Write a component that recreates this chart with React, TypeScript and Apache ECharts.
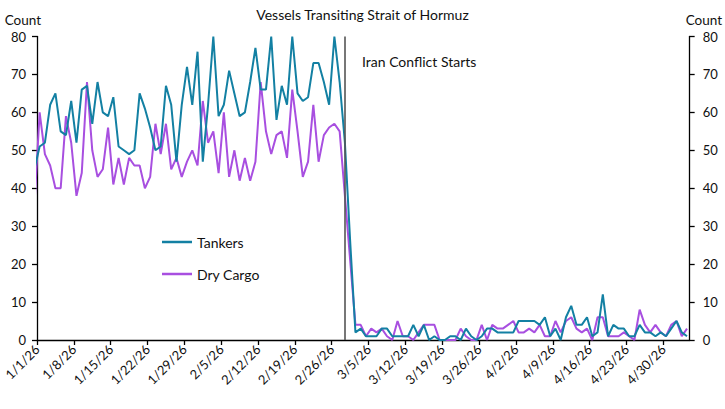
import React, { useEffect, useRef } from 'react'
import * as echarts from 'echarts'

// daily counts, first value is 12/31/25 (clipped at the axis edge)
const tankers = [
  45, 51, 52, 62, 65, 55, 54, 63, 52, 66, 67, 57, 68, 60, 59, 64,
  51, 50, 49, 50, 65, 61, 56, 50, 51, 67, 62, 47, 62, 72, 62,
  76, 47, 62, 80, 59, 62, 71, 65, 59, 60, 68, 77, 66, 66,
  80, 58, 67, 62, 80, 65, 63, 64, 73, 73, 68, 62, 80, 68, 52, 26, 2,
  3, 1, 1, 1, 3, 3, 1, 1, 1, 1, 4, 1, 4, 0, 1, 0, 0, 1, 1, 0, 3, 1, 0, 1, 3, 3, 2, 2, 2, 2,
  5, 5, 5, 5, 4, 6, 1, 3, 0, 6, 9, 4, 4, 6, 1, 2, 12, 1, 4, 3, 3, 1, 1, 4, 2, 2, 1, 2, 1, 3, 5, 2, 1,
]

const dryCargo = [
  35, 60, 49, 46, 40, 40, 59, 52, 38, 44, 68, 50, 43, 45, 56, 41,
  48, 41, 48, 46, 46, 40, 43, 57, 49, 57, 45, 48, 43, 47, 50,
  46, 63, 52, 55, 44, 60, 43, 50, 42, 48, 42, 47, 68, 55,
  49, 54, 55, 48, 66, 55, 43, 47, 62, 47, 54, 56, 57, 55, 38, 21, 4,
  4, 1, 3, 2, 3, 1, 0, 5, 1, 1, 0, 2, 4, 4, 4, 0, 0, 0, 0, 3, 1, 0, 0, 4, 0, 4, 3, 3, 4, 5,
  2, 2, 3, 2, 4, 1, 1, 5, 2, 5, 6, 3, 2, 3, 0, 6, 6, 1, 1, 1, 2, 1, 0, 8, 4, 2, 4, 2, 1, 4, 5, 1, 3,
]

const firstDate = '12/31/25'
const axisStartDate = '1/1/26'
const axisEndDate = '5/5/26'
const conflictDate = '2/28/26'
const conflictLabel = 'Iran Conflict Starts'

const parseDate = (s: string) => {
  const [m, d, y] = s.split('/').map(Number)
  return new Date(2000 + y, m - 1, d)
}
const formatDate = (dt: Date) =>
  `${dt.getMonth() + 1}/${dt.getDate()}/${String(dt.getFullYear()).slice(2)}`

const DAY = 86400000
const dayOffset = (s: string) =>
  Math.round((parseDate(s).getTime() - parseDate(axisStartDate).getTime()) / DAY)

const dates = tankers.map((_, i) => {
  const dt = parseDate(firstDate)
  dt.setDate(dt.getDate() + i)
  return formatDate(dt)
})

// each daily value sits in the middle of its day
const toPoints = (vals: number[]) => dates.map((d, i) => [dayOffset(d) + 0.5, vals[i]])

const FONT = 'Lato'
const TEXT = '#111'
const TEAL = '#1380A3'
const PURPLE = '#A84FE0'

const App: React.FC = () => {
  const chartRef = useRef<HTMLDivElement>(null)

  useEffect(() => {
    if (!chartRef.current) return
    const chart = echarts.init(chartRef.current, undefined, { renderer: 'svg' })

    const yAxisBase = {
      type: 'value' as const,
      min: 0,
      max: 80,
      interval: 10,
      name: 'Count',
      nameLocation: 'end' as const,
      nameGap: 10,
      axisLine: { show: true, lineStyle: { color: '#000', width: 1.3 } },
      axisTick: { show: true, length: 5, lineStyle: { color: '#000', width: 1.3 } },
      splitLine: { show: false },
    }

    chart.setOption({
      animation: false,
      backgroundColor: '#fff',
      textStyle: { fontFamily: FONT },
      title: {
        text: 'Vessels Transiting Strait of Hormuz',
        left: 'center',
        top: 2,
        textStyle: { fontFamily: FONT, fontSize: 14, fontWeight: 'normal', color: TEXT },
      },
      legend: {
        orient: 'vertical',
        left: 157,
        top: 230,
        icon: 'rect',
        itemWidth: 30,
        itemHeight: 2.5,
        itemGap: 18,
        textStyle: { fontFamily: FONT, fontSize: 14, color: TEXT },
        data: ['Tankers', 'Dry Cargo'],
      },
      grid: { left: 37, right: 33, top: 36.5, bottom: 69, containLabel: false },
      xAxis: {
        type: 'value',
        min: 0,
        max: dayOffset(axisEndDate),
        interval: 7,
        splitLine: { show: false },
        axisLine: { lineStyle: { color: '#000', width: 1.3 } },
        axisTick: { length: 5, lineStyle: { color: '#000', width: 1.3 } },
        axisLabel: {
          rotate: 45,
          margin: 7,
          fontFamily: FONT,
          fontSize: 13,
          color: TEXT,
          showMaxLabel: false,
          formatter: (v: number) => {
            const dt = parseDate(axisStartDate)
            dt.setDate(dt.getDate() + v)
            return formatDate(dt)
          },
        },
      },
      yAxis: [
        {
          ...yAxisBase,
          position: 'left',
          nameTextStyle: { fontFamily: FONT, fontSize: 13.5, color: TEXT, align: 'right', padding: [0, -4, 0, 0] },
          axisLabel: { fontFamily: FONT, fontSize: 13, color: TEXT, margin: 11 },
        },
        {
          ...yAxisBase,
          position: 'right',
          nameTextStyle: { fontFamily: FONT, fontSize: 13.5, color: TEXT, align: 'left', padding: [0, 0, 0, -4] },
          axisLabel: { fontFamily: FONT, fontSize: 13, color: TEXT, margin: 13 },
        },
      ],
      series: [
        {
          name: 'Tankers',
          type: 'line',
          data: toPoints(tankers),
          symbol: 'none',
          clip: true,
          color: TEAL,
          lineStyle: { width: 2, color: TEAL },
          z: 3,
          markLine: {
            silent: true,
            symbol: 'none',
            label: { show: false },
            lineStyle: { color: '#555', width: 1.6, type: 'solid' },
            data: [{ xAxis: dayOffset(conflictDate) + 0.5 }],
          },
        },
        {
          name: 'Dry Cargo',
          type: 'line',
          data: toPoints(dryCargo),
          symbol: 'none',
          clip: true,
          color: PURPLE,
          lineStyle: { width: 2, color: PURPLE },
          z: 2,
        },
      ],
      graphic: [
        {
          type: 'text',
          left: 362,
          top: 54,
          style: { text: conflictLabel, fontFamily: FONT, fontSize: 14, fill: TEXT },
        },
      ],
    })

    return () => chart.dispose()
  }, [])

  return <div ref={chartRef} style={{ position: 'fixed', left: 0, top: 0, width: 725, height: 409 }} />
}

export default App
